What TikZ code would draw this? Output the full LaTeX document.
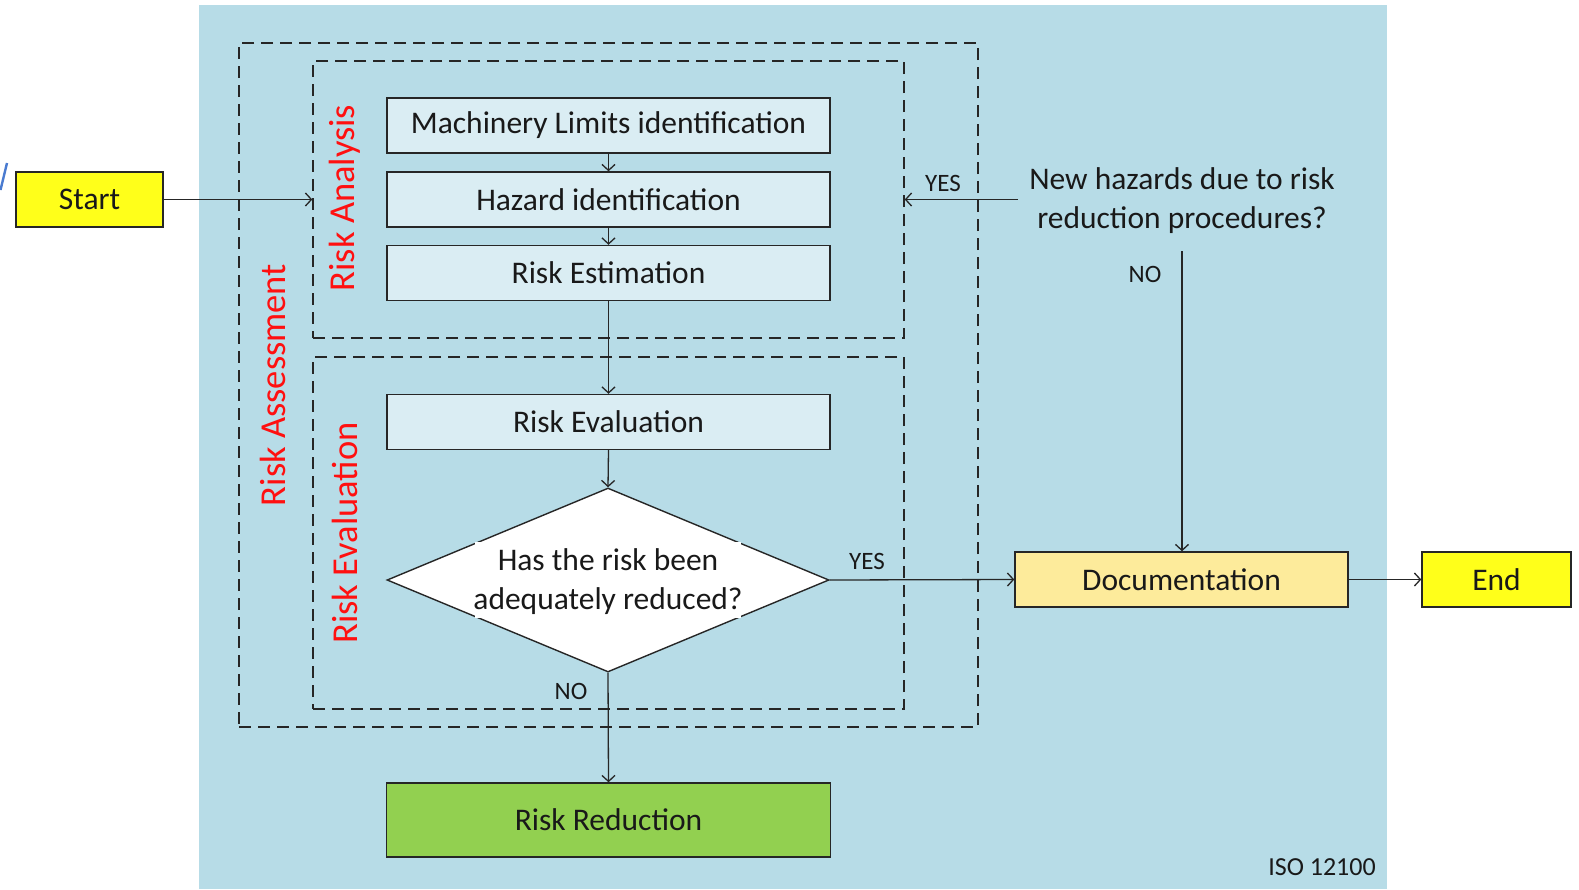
\documentclass[tikz,border=0pt]{standalone}
\usepackage{fontspec}
\setmainfont{Carlito}
\usetikzlibrary{arrows.meta,shapes.geometric}
\definecolor{bgblue}{HTML}{B7DCE7}
\definecolor{paleblue}{HTML}{DAEDF3}
\definecolor{startyellow}{HTML}{FFFF1A}
\definecolor{docyellow}{HTML}{FDEB9B}
\definecolor{reducegreen}{HTML}{92D050}
\definecolor{labelred}{HTML}{FF1010}
\definecolor{slashblue}{HTML}{4A7BD0}
\begin{document}
\begin{tikzpicture}[x=1pt,y=-1pt,
  txt/.style={font=\fontsize{31.5}{39}\selectfont, text=black!90},
  small/.style={font=\fontsize{25}{30}\selectfont, text=black!90, inner sep=0},
  redlabel/.style={font=\fontsize{36.5}{40}\selectfont, text=labelred, rotate=90, inner sep=0},
  procbox/.style={txt, draw=black!85, line width=1.4pt, fill=paleblue, minimum width=443pt, minimum height=55pt, inner sep=0},
  termbox/.style={txt, draw=black!85, line width=1.4pt, fill=startyellow, minimum height=55pt, inner sep=0},
  dashbox/.style={draw=black!85, line width=1.4pt, dash pattern=on 12pt off 7pt, inner sep=0},
  arr/.style={draw=black!85, line width=1.3pt, -{Straight Barb[length=6pt,width=13pt,line width=1.3pt]}},
]
\useasboundingbox (0,0) rectangle (1579,889);
\fill[bgblue] (199,5) rectangle (1387,889);
\draw[slashblue, line width=2.4pt] (0.5,190) -- (7,163);

% grouping frames
\node[dashbox, minimum width=739pt, minimum height=684pt] (assess) at (608.5,385) {};
\node[dashbox, minimum width=591pt, minimum height=277pt] (analysis) at (608.5,199.5) {};
\node[dashbox, minimum width=591pt, minimum height=352pt] (evalarea) at (608.5,533) {};

\node[redlabel] (lassess) at (273,385) {Risk Assessment};
\node[redlabel] (lanalysis) at (345,198) {Risk Analysis};
\node[redlabel] (levaluation) at (345,533) {Risk Evaluation};

% process steps
\node[procbox] (limits) at (608.5,125.5) {Machinery Limits identification};
\node[procbox] (hazard) at (608.5,199.5) {Hazard identification};
\node[procbox] (estim) at (608.5,273) {Risk Estimation};
\node[procbox] (evalbox) at (608.5,422) {Risk Evaluation};

% decision: diamond, the white text area over it, then the question
\node[draw=black!85, line width=1.4pt, fill=white, diamond, minimum width=442pt, minimum height=184pt, inner sep=0] (decide) at (608,580) {};
\node[fill=white, minimum width=266pt, minimum height=76pt, inner sep=0] (decidearea) at (decide) {};
\node[txt, inner sep=0, align=center] (decidetext) at (608,582) {Has the risk been\\adequately reduced?};

\node[procbox, fill=reducegreen, minimum width=444pt, minimum height=74pt] (reduce) at (608.5,820) {Risk Reduction};

\node[termbox, minimum width=147pt] (start) at (89.5,199.5) {Start};
\node[procbox, fill=docyellow, minimum width=333pt] (doc) at (1181.5,579.5) {Documentation};
\node[termbox, minimum width=149pt] (finish) at (1496.5,579.5) {End};

\node[txt, align=center, inner xsep=11pt, inner ysep=17pt] (newhaz) at (1182,201) {New hazards due to risk\\reduction procedures?};

\node[txt, font=\fontsize{26}{30}\selectfont, inner sep=0] (iso) at (1322,867) {ISO 12100};

% connectors
\draw[arr] (start.east) -- (analysis.west |- start.east);
\draw[arr] (limits.south) -- (hazard.north);
\draw[arr] (hazard.south) -- (estim.north);
\draw[arr] (estim.south) -- (evalbox.north);
\draw[arr] (evalbox.south) -- (decide.north);
\draw[arr] (decide.south) -- (reduce.north);
\draw[arr] (decide.east) -- (doc.west);
\draw[arr] (doc.east) -- (finish.west);
\draw[arr] (newhaz.west |- 0,199.5) -- (analysis.east |- 0,199.5);
\draw[arr] (newhaz.south) -- (newhaz.south |- doc.north);

% branch labels
\node[small] (yesnew) at (943,183) {YES};
\node[small] (nonew) at (1145,274) {NO};
\node[small] (yesdec) at (867,561) {YES};
\node[small] (nodec) at (571,691) {NO};
\end{tikzpicture}
\end{document}
